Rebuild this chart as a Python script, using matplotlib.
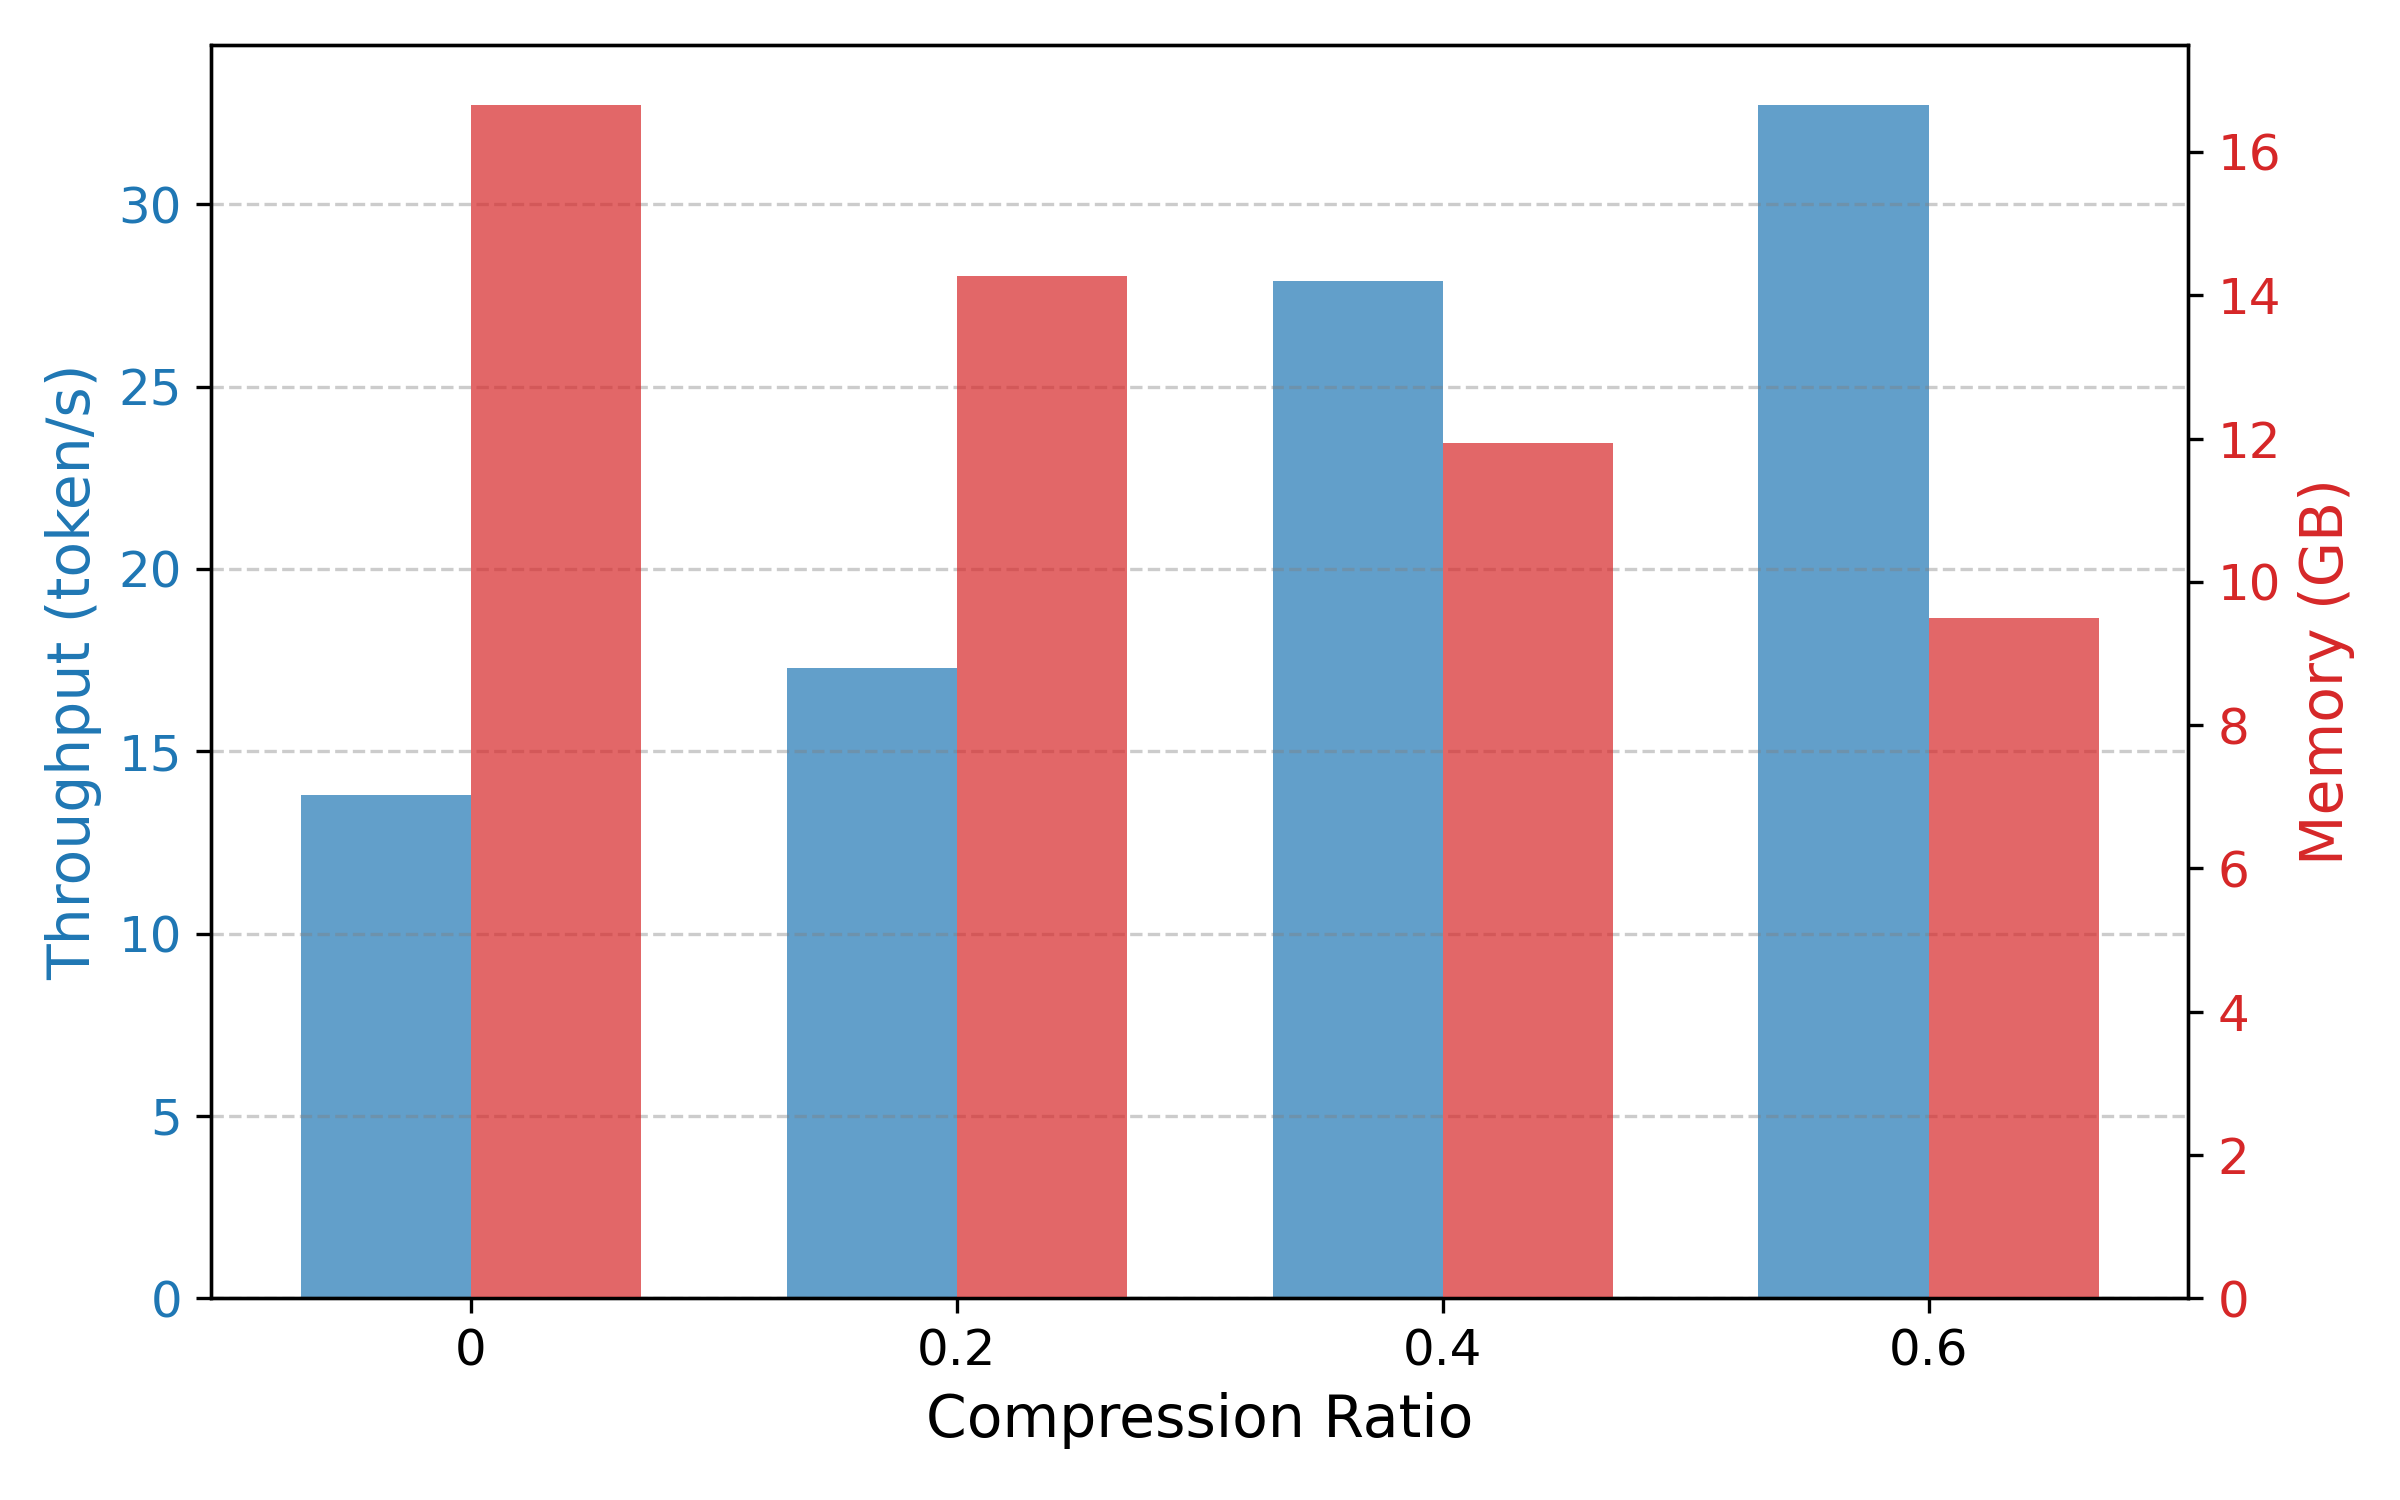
import numpy as np
import matplotlib.pyplot as plt

ratios = ['0', '0.2', '0.4', '0.6']
throughput = [13.8, 17.27, 27.9, 32.73]
memory = [16.66, 14.27, 11.94, 9.50]

x = np.arange(len(ratios))
width = 0.35

fig, ax1 = plt.subplots(figsize=(8, 5))
ax1.bar(x - width / 2, throughput, width, color='tab:blue', alpha=0.7, label='Throughput')
ax1.set_xlabel('Compression Ratio', fontsize=14)
ax1.set_ylabel('Throughput (token/s)', color='tab:blue', fontsize=14)
ax1.tick_params(axis='y', labelcolor='tab:blue', labelsize=12)
ax1.tick_params(axis='x', labelsize=12)
ax1.set_xticks(x)
ax1.set_xticklabels(ratios)
ax1.grid(axis='y', linestyle='--', color='gray', alpha=0.4)

ax2 = ax1.twinx()
ax2.bar(x + width / 2, memory, width, color='tab:red', alpha=0.7, label='Memory')
ax2.set_ylabel('Memory (GB)', color='tab:red', fontsize=14)
ax2.tick_params(axis='y', labelcolor='tab:red', labelsize=12)

fig.tight_layout()
fig.savefig('out.png', dpi=300)
